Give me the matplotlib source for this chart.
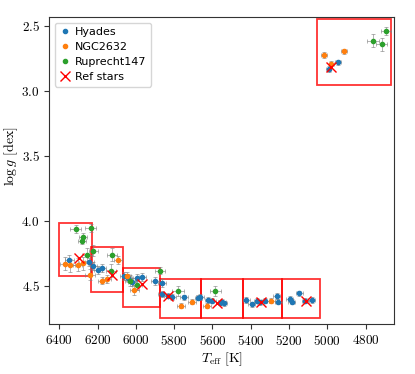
import matplotlib
matplotlib.use("Agg")
import matplotlib.pyplot as plt
from matplotlib.patches import Rectangle
from matplotlib.lines import Line2D
from matplotlib.ticker import FuncFormatter

plt.rcParams['mathtext.fontset'] = 'cm'

# Hyades
hy_teff = [6348, 6243, 6222, 6199, 6175, 6062, 6042, 6021, 5995, 5966, 5900, 5865,
           5866, 5833, 5812, 5749, 5673, 5665, 5621, 5603, 5551, 5542, 5560,
           5424, 5394, 5365, 5350, 5323, 5263, 5255, 5197, 5185, 5147, 5115, 5080,
           4944, 4993]
hy_logg = [4.300, 4.315, 4.345, 4.377, 4.362, 4.421, 4.440, 4.467, 4.436, 4.433, 4.460, 4.480,
           4.562, 4.575, 4.585, 4.588, 4.590, 4.585, 4.608, 4.615, 4.621, 4.633, 4.628,
           4.608, 4.641, 4.613, 4.625, 4.613, 4.577, 4.621, 4.598, 4.621, 4.556, 4.615, 4.608,
           2.779, 2.831]
hy_eteff = [25, 22, 20, 20, 20, 20, 20, 20, 20, 20, 20, 20,
            20, 20, 20, 20, 20, 20, 20, 20, 20, 20, 20,
            18, 18, 18, 18, 18, 18, 18, 18, 18, 18, 18, 18,
            15, 15]
hy_elogg = [0.04, 0.03, 0.03, 0.03, 0.03, 0.03, 0.03, 0.03, 0.03, 0.03, 0.03, 0.03,
            0.02, 0.02, 0.02, 0.02, 0.02, 0.02, 0.02, 0.02, 0.02, 0.02, 0.02,
            0.02, 0.02, 0.02, 0.02, 0.02, 0.02, 0.02, 0.02, 0.02, 0.02, 0.02, 0.02,
            0.02, 0.02]

# NGC2632
ngc_teff = [6370, 6344, 6304, 6274, 6239, 6178, 6152, 6092, 6048, 6008,
            5764, 5708, 5628, 5295, 5016, 4913, 4978]
ngc_logg = [4.331, 4.341, 4.338, 4.325, 4.413, 4.459, 4.449, 4.300, 4.423, 4.531,
            4.651, 4.623, 4.651, 4.615, 2.723, 2.695, 2.790]
ngc_eteff = [25, 25, 25, 25, 25, 22, 22, 22, 22, 22, 22, 22, 20, 20, 15, 15, 15]
ngc_elogg = [0.05, 0.05, 0.05, 0.05, 0.04, 0.03, 0.03, 0.03, 0.03, 0.04,
             0.02, 0.02, 0.02, 0.02, 0.02, 0.02, 0.02]

# Ruprecht147
rup_teff = [6314, 6236, 6278, 6283, 6254, 6222, 6126, 6131, 5873, 6030, 5995,
            5780, 5584, 4761, 4716, 4692]
rup_logg = [4.062, 4.052, 4.123, 4.151, 4.262, 4.228, 4.260, 4.382, 4.382, 4.459, 4.492,
            4.540, 4.538, 2.613, 2.641, 2.538]
rup_eteff = [28, 28, 20, 20, 25, 25, 25, 25, 25, 25, 25, 30, 30, 30, 28, 25]
rup_elogg = [0.03, 0.03, 0.03, 0.03, 0.05, 0.04, 0.05, 0.05, 0.03, 0.04, 0.04,
             0.04, 0.04, 0.05, 0.05, 0.03]

# Reference stars
ref_teff = [6297, 6126, 5966, 5833, 5574, 5345, 5110, 4979]
ref_logg = [4.287, 4.418, 4.482, 4.575, 4.633, 4.620, 4.613, 2.818]

# Boxes
box_teff_lo = [6231, 6068, 5873, 5658, 5440, 5239, 5038, 4669]
box_teff_hi = [6400, 6232, 6068, 5875, 5658, 5440, 5239, 5051]
box_logg_lo = [4.018, 4.202, 4.359, 4.449, 4.449, 4.449, 4.449, 2.448]
box_logg_hi = [4.423, 4.548, 4.659, 4.749, 4.749, 4.749, 4.749, 2.952]

labels = ['Hyades', 'NGC2632', 'Ruprecht147', 'Ref stars']
colors = ['#1f77b4', '#ff7f0e', '#2ca02c']

fig = plt.figure(figsize=(4.15, 3.74), dpi=100)
ax = fig.add_axes([0.119, 0.133, 0.830, 0.821])

for tl, th, gl, gh in zip(box_teff_lo, box_teff_hi, box_logg_lo, box_logg_hi):
    ax.add_patch(Rectangle((tl, gl), th - tl, gh - gl, fill=False,
                           edgecolor='red', lw=1.3, alpha=0.8, zorder=1))

ekw = dict(fmt='.', ecolor=(0.5, 0.5, 0.5, 0.7), elinewidth=0.6, capsize=1.2,
           capthick=0.6, markersize=6, zorder=3)
series = [(hy_teff, hy_logg, hy_eteff, hy_elogg),
          (ngc_teff, ngc_logg, ngc_eteff, ngc_elogg),
          (rup_teff, rup_logg, rup_eteff, rup_elogg)]
for (t, g, et, eg), c in zip(series, colors):
    ax.errorbar(t, g, xerr=et, yerr=eg, color=c, **ekw)
ax.plot(ref_teff, ref_logg, 'x', color='red', markersize=7, mew=1.0,
        linestyle='none', zorder=4)

handles = [Line2D([], [], marker='.', color=c, linestyle='none', markersize=6)
           for c in colors]
handles.append(Line2D([], [], marker='x', color='red', linestyle='none',
                      markersize=7, mew=1.0))

ax.set_xlim(6452, 4652)
ax.set_ylim(4.795, 2.433)
ax.set_xticks([6400, 6200, 6000, 5800, 5600, 5400, 5200, 5000, 4800])
ax.set_yticks([2.5, 3.0, 3.5, 4.0, 4.5])
ax.xaxis.set_major_formatter(FuncFormatter(lambda v, p: f"${v:.0f}$"))
ax.yaxis.set_major_formatter(FuncFormatter(lambda v, p: f"${v:.1f}$"))
ax.tick_params(labelsize=9.5, color='#333333')
for s in ax.spines.values():
    s.set_edgecolor('#333333')

ax.set_xlabel(r"$T_{\mathrm{eff}}\ [\mathrm{K}]$", fontsize=10, labelpad=2)
ax.set_ylabel(r"$\log g\ [\mathrm{dex}]$", fontsize=10)
ax.yaxis.set_label_coords(-0.085, 0.548)

ax.legend(handles, labels, loc='upper left', fontsize=8, handletextpad=0.4,
          borderpad=0.4, handlelength=1.0, labelspacing=0.45)

fig.savefig('out.png', dpi=100)
